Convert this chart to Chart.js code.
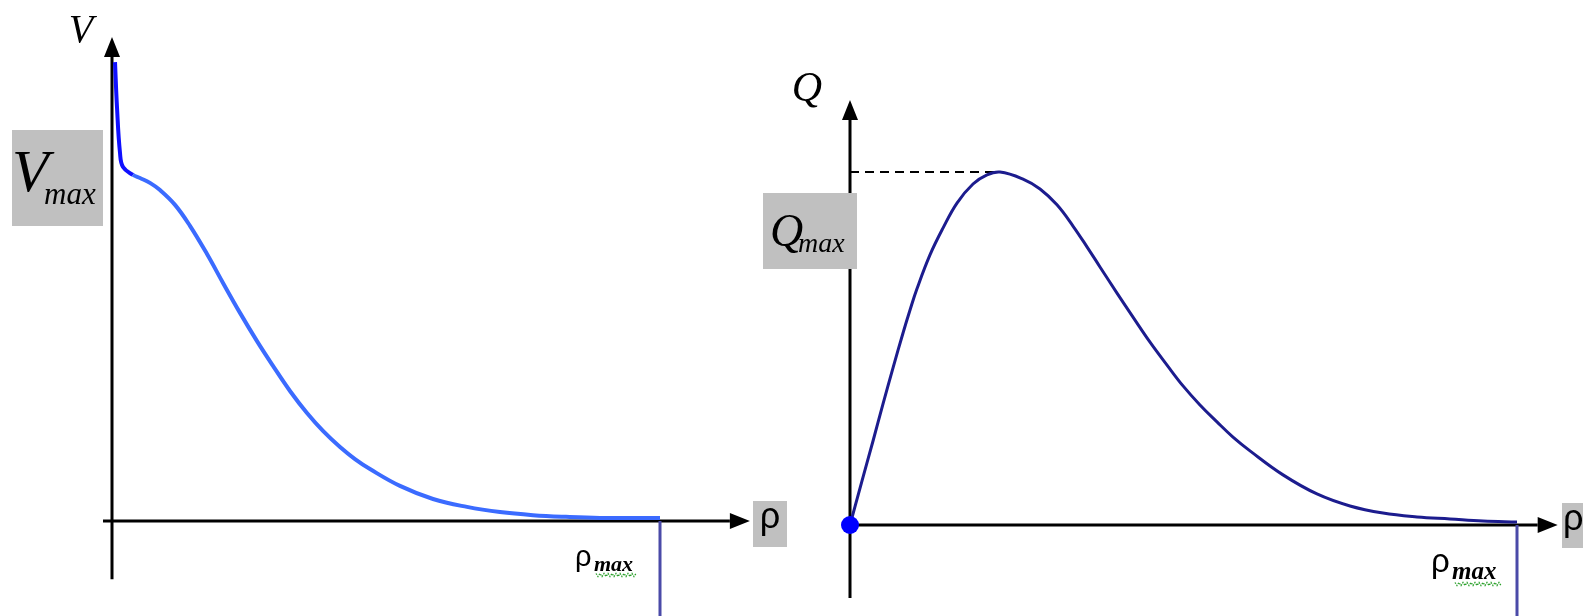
<!DOCTYPE html>
<html><head><meta charset="utf-8">
<script src="https://cdn.jsdelivr.net/npm/chart.js@4.4.1/dist/chart.umd.min.js"></script>
<style>
html,body{margin:0;padding:0;background:#fff;width:1583px;height:616px;overflow:hidden}
canvas{position:absolute;left:0;top:0}
</style></head><body>
<canvas id="left" width="1583" height="616"></canvas>
<canvas id="right" width="1583" height="616"></canvas>
<script>
// ---------- data (normalised: rho_max = 100, V_max = 1, Q_max = 1) ----------
const densityV = [0.55, 0.91, 1.46, 2.01, 3.83, 5.11, 6.93, 8.76, 11.50, 14.23, 17.34, 20.26, 23.36, 26.46, 29.38, 32.48, 35.58, 38.50, 41.61, 44.34, 47.08, 52.55, 58.58, 64.78, 70.80, 76.82, 82.85, 89.05, 100];
const speedV   = [1.334, 1.203, 1.070, 1.029, 1.006, 0.997, 0.983, 0.962, 0.919, 0.858, 0.776, 0.692, 0.605, 0.523, 0.451, 0.378, 0.314, 0.262, 0.215, 0.180, 0.151, 0.102, 0.064, 0.041, 0.026, 0.017, 0.012, 0.009, 0.009];
const densityQ = [0, 1.80, 3.45, 4.95, 6.45, 7.95, 9.00, 10.04, 11.99, 13.94, 16.04, 18.44, 20.54, 22.49, 25.94, 28.49, 31.03, 33.43, 35.53, 37.48, 40.03, 42.43, 44.98, 47.53, 49.93, 52.47, 55.02, 57.42, 59.97, 64.92, 70.01, 74.96, 79.91, 85.01, 89.96, 94.90, 100];
const flowQ    = [0, 0.125, 0.238, 0.343, 0.445, 0.544, 0.609, 0.669, 0.765, 0.841, 0.912, 0.966, 0.992, 1.0, 0.980, 0.952, 0.907, 0.847, 0.788, 0.731, 0.657, 0.589, 0.518, 0.453, 0.394, 0.340, 0.292, 0.249, 0.210, 0.142, 0.088, 0.054, 0.034, 0.023, 0.017, 0.011, 0.0085];
const rhoMax = 100;
const vMax = 1;
const qMax = 1;
const qPeakDensity = 22.49;
const labelsV = { axis: 'V', max: 'V', sub: 'max', x: 'ρ' };
const labelsQ = { axis: 'Q', max: 'Q', sub: 'max', x: 'ρ' };

const pts = (xs, ys) => xs.map((x, i) => ({ x, y: ys[i] }));

// ---------- drawing helpers ----------
function squiggle(ctx, x0, x1, y) {
  ctx.save();
  ctx.strokeStyle = '#2aa02a'; ctx.lineWidth = 1.3; ctx.setLineDash([1.5, 1.2]);
  ctx.beginPath();
  for (let x = x0, k = 0; x <= x1; x += 2, k++) {
    const yy = y + (k % 2 ? 1.5 : -1.5);
    if (k === 0) ctx.moveTo(x, yy); else ctx.lineTo(x, yy);
  }
  ctx.stroke(); ctx.restore();
}

const sketchAxes = {
  id: 'sketchAxes',
  beforeDatasetsDraw(chart, args, o) {
    const { ctx, scales: { x, y } } = chart;
    const ox = x.getPixelForValue(0), oy = y.getPixelForValue(0);
    const yTop = y.getPixelForValue(o.yTop), yBot = y.getPixelForValue(o.yBottom);
    const xS = x.getPixelForValue(o.xStart), xE = x.getPixelForValue(o.xEnd);
    ctx.save();
    ctx.strokeStyle = '#000'; ctx.fillStyle = '#000'; ctx.lineWidth = 3;
    ctx.beginPath(); ctx.moveTo(ox, yBot); ctx.lineTo(ox, yTop + o.head); ctx.stroke();
    ctx.beginPath(); ctx.moveTo(ox, yTop); ctx.lineTo(ox - o.half, yTop + o.head); ctx.lineTo(ox + o.half, yTop + o.head); ctx.closePath(); ctx.fill();
    ctx.beginPath(); ctx.moveTo(xS, oy); ctx.lineTo(xE - o.head, oy); ctx.stroke();
    ctx.beginPath(); ctx.moveTo(xE, oy); ctx.lineTo(xE - o.head, oy - o.half); ctx.lineTo(xE - o.head, oy + o.half); ctx.closePath(); ctx.fill();
    if (o.dashTo) {
      const yq = y.getPixelForValue(o.dashLevel), xq = x.getPixelForValue(o.dashTo);
      ctx.lineWidth = 2; ctx.setLineDash([9, 6]);
      ctx.beginPath(); ctx.moveTo(ox, yq); ctx.lineTo(xq, yq); ctx.stroke();
    }
    ctx.restore();
  },
  afterDatasetsDraw(chart) {
    const { ctx, scales: { x, y } } = chart;
    const ox = x.getPixelForValue(0), oy = y.getPixelForValue(0);
    const xm = x.getPixelForValue(rhoMax);
    ctx.save();
    ctx.textBaseline = 'alphabetic';
    if (chart.canvas.id === 'left') {
      const L = labelsV;
      ctx.fillStyle = '#000'; ctx.textAlign = 'center';
      ctx.font = 'italic 40px "Liberation Serif"';
      ctx.fillText(L.axis, ox - 31, 42);
      const yv = y.getPixelForValue(vMax);
      ctx.fillStyle = '#c0c0c0'; ctx.fillRect(ox - 100, yv - 47, 91, 96);
      ctx.fillStyle = '#000'; ctx.textAlign = 'left';
      ctx.font = 'italic 60px "Liberation Serif"'; ctx.fillText(L.max, ox - 100, yv + 14);
      ctx.font = 'italic 31px "Liberation Serif"'; ctx.fillText(L.sub, ox - 68, yv + 27);
      ctx.fillStyle = '#c0c0c0'; ctx.fillRect(753, oy - 20, 34, 46);
      ctx.fillStyle = '#000'; ctx.textAlign = 'center';
      ctx.font = '36px "Liberation Sans"'; ctx.fillText(L.x, 770, oy + 7);
      ctx.textAlign = 'left';
      ctx.font = '29px "Liberation Sans"'; ctx.fillText('ρ', xm - 85, oy + 45);
      ctx.font = 'italic bold 22px "Liberation Serif"'; ctx.fillText('max', xm - 66, oy + 50);
      squiggle(ctx, xm - 64, xm - 24, oy + 54);
    } else {
      const L = labelsQ;
      ctx.fillStyle = '#000'; ctx.textAlign = 'center';
      ctx.font = 'italic 42px "Liberation Serif"';
      ctx.fillText(L.axis, ox - 43, 101);
      const yq = y.getPixelForValue(qMax);
      ctx.fillStyle = '#c0c0c0'; ctx.fillRect(ox - 87, yq + 21, 94, 76);
      ctx.fillStyle = '#000'; ctx.textAlign = 'left';
      ctx.font = 'italic 46px "Liberation Serif"'; ctx.fillText(L.max, ox - 80, yq + 74);
      ctx.font = 'italic 28px "Liberation Serif"'; ctx.fillText(L.sub, ox - 52, yq + 80);
      ctx.fillStyle = '#c0c0c0'; ctx.fillRect(1562, oy - 22, 30, 45);
      ctx.fillStyle = '#000'; ctx.font = '36px "Liberation Sans"'; ctx.fillText(L.x, 1563, oy + 5);
      ctx.font = '33px "Liberation Sans"'; ctx.fillText('ρ', xm - 86, oy + 47);
      ctx.font = 'italic bold 25px "Liberation Serif"'; ctx.fillText('max', xm - 65, oy + 54);
      squiggle(ctx, xm - 62, xm - 16, oy + 59);
    }
    ctx.restore();
  }
};

function makeChart(id, curve, color, segColor, width, padL, padR, yMin, yMaxV, axesOpt, dot) {
  return new Chart(document.getElementById(id), {
    type: 'scatter',
    data: {
      datasets: [
        {
          data: curve, showLine: true, borderColor: color, borderWidth: width,
          tension: 0.4, clip: false,
          pointRadius: c => (dot && c.dataIndex === 0 ? 9 : 0),
          pointBackgroundColor: '#0000ff', pointBorderWidth: 0,
          segment: segColor ? { borderColor: c => (c.p0DataIndex < 4 ? segColor : color) } : undefined
        },
        {
          data: [{ x: rhoMax, y: 0 }, { x: rhoMax, y: yMin - 0.1 }], showLine: true,
          borderColor: '#4a4aa8', borderWidth: 3, pointRadius: 0, clip: false
        }
      ]
    },
    options: {
      responsive: false, animation: false, devicePixelRatio: 1,
      layout: { autoPadding: false, padding: { left: padL, right: padR, top: 0, bottom: 0 } },
      scales: {
        x: { type: 'linear', min: 0, max: rhoMax, display: false },
        y: { type: 'linear', min: yMin, max: yMaxV, display: false }
      },
      plugins: { legend: { display: false }, tooltip: { enabled: false }, sketchAxes: axesOpt }
    },
    plugins: [sketchAxes]
  });
}

makeChart('left', pts(densityV, speedV), '#3b6bff', '#1010ff', 4, 112, 923, -95 / 344, 521 / 344,
  { yTop: 1.407, yBottom: -0.169, xStart: -1.64, xEnd: 116.4, head: 20, half: 8 }, false);
makeChart('right', pts(densityQ, flowQ), '#1c1c8e', null, 3, 850, 66, -91 / 353, 525 / 353,
  { yTop: 1.204, yBottom: -0.207, xStart: 0, xEnd: 106.1, head: 20, half: 8, dashTo: qPeakDensity, dashLevel: qMax }, true);
</script>
</body></html>
